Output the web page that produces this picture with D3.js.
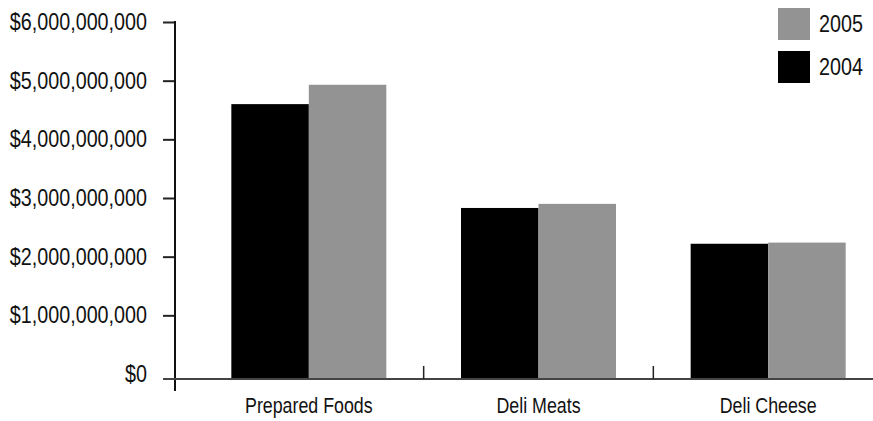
<!DOCTYPE html>
<html>
<head>
<meta charset="utf-8">
<script src="https://cdn.jsdelivr.net/npm/d3@7"></script>
<style>
  body { margin: 0; background: #fff; }
  svg { display: block; }
  text { font-family: "Liberation Sans", Arial, sans-serif; fill: #111; }
</style>
</head>
<body>
<div id="chart"></div>
<script>
// data
const categories = ["Prepared Foods", "Deli Meats", "Deli Cheese"];
const seriesNames = ["2004", "2005"];
const values2004 = [4.60e9, 2.83e9, 2.22e9];
const values2005 = [4.93e9, 2.90e9, 2.24e9];
const yTicks = [0, 1e9, 2e9, 3e9, 4e9, 5e9, 6e9];
const legendOrder = ["2005", "2004"];

const colors = { "2004": "#000000", "2005": "#939393" };

const width = 873, height = 421;
const narrow = 0.84; // condensed face is not installed, squeeze a regular one

const svg = d3.select("#chart").append("svg")
    .attr("width", width)
    .attr("height", height);

const axisX = 175;
const y = d3.scaleLinear()
    .domain([0, 6e9])
    .range([374, 22]);
const baseY = y(0) + 5; // category axis sits a little under the $0 label

const x0 = d3.scaleBand()
    .domain(categories)
    .range([194, 883])
    .padding(0);

const groupW = 155;
const x1 = d3.scaleBand()
    .domain(seriesNames)
    .range([(x0.bandwidth() - groupW) / 2, (x0.bandwidth() + groupW) / 2]);

const rows = categories.map((c, i) => ({
    cat: c,
    vals: [
        { key: "2004", value: values2004[i] },
        { key: "2005", value: values2005[i] }
    ]
}));

// bars
const grp = svg.selectAll(".grp")
    .data(rows)
    .enter().append("g")
    .attr("class", "grp")
    .attr("transform", d => `translate(${x0(d.cat)},0)`);

grp.selectAll("rect")
    .data(d => d.vals)
    .enter().append("rect")
    .attr("x", d => x1(d.key))
    .attr("width", x1.bandwidth())
    .attr("y", d => y(d.value))
    .attr("height", d => baseY - y(d.value))
    .attr("fill", d => colors[d.key]);

// y axis
const yAxis = svg.append("g")
    .attr("transform", `translate(${axisX},0)`)
    .call(d3.axisLeft(y)
        .tickValues(yTicks)
        .tickSize(12)
        .tickPadding(16)
        .tickFormat(d => "$" + d3.format(",")(d)));
yAxis.select(".domain").remove();
yAxis.selectAll(".tick line").attr("stroke", "#222").attr("stroke-width", 2);
// the $0 tick is the category axis itself
yAxis.selectAll(".tick").filter(d => d === 0).select("line").remove();
yAxis.selectAll(".tick text")
    .attr("x", 0)
    .attr("transform", `translate(-28,0) scale(${narrow},1)`)
    .style("font-size", "23.5px")
    .attr("fill", "#111");
yAxis.append("line")
    .attr("x1", 0).attr("x2", 0)
    .attr("y1", y(6e9) - 1).attr("y2", baseY + 12)
    .attr("stroke", "#111").attr("stroke-width", 2);

// x axis
const xAxis = svg.append("g")
    .attr("transform", `translate(0,${baseY})`);
xAxis.append("line")
    .attr("x1", axisX - 12).attr("x2", width)
    .attr("stroke", "#444").attr("stroke-width", 2);
xAxis.selectAll(".sep")
    .data(categories.slice(1))
    .enter().append("line")
    .attr("class", "sep")
    .attr("x1", d => x0(d)).attr("x2", d => x0(d))
    .attr("y1", 0).attr("y2", -13)
    .attr("stroke", "#222").attr("stroke-width", 1.5);
xAxis.selectAll(".cat")
    .data(categories)
    .enter().append("text")
    .attr("class", "cat")
    .attr("transform", d => `translate(${x0(d) + x0.bandwidth() / 2},34) scale(0.81,1)`)
    .attr("text-anchor", "middle")
    .style("font-size", "22px")
    .text(d => d);

// legend
const legend = svg.append("g")
    .selectAll(".leg")
    .data(legendOrder)
    .enter().append("g")
    .attr("class", "leg")
    .attr("transform", (d, i) => `translate(778,${8 + i * 43})`);
legend.append("rect")
    .attr("width", 32).attr("height", 32)
    .attr("fill", d => colors[d]);
legend.append("text")
    .attr("transform", `translate(41,24) scale(${narrow},1)`)
    .style("font-size", "23.5px")
    .text(d => d);
</script>
</body>
</html>
